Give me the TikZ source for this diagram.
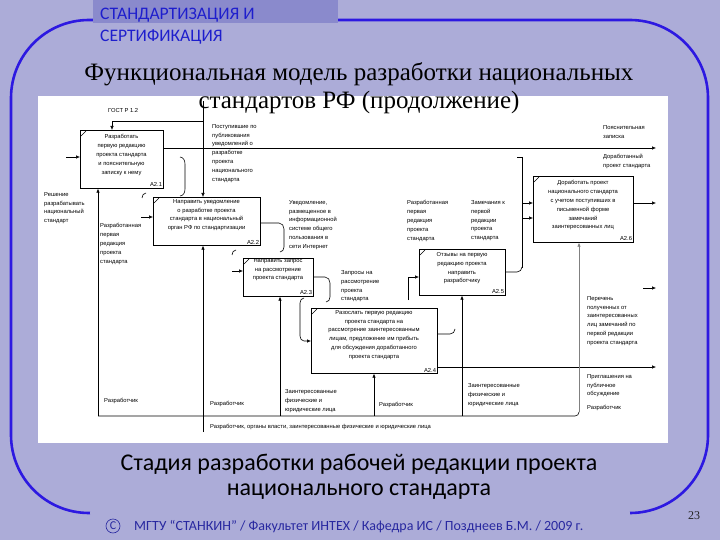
\documentclass[tikz,border=0pt]{standalone}
\usepackage{fontspec}
\setmainfont{Liberation Serif}
\newfontfamily\diagfam{Liberation Sans}
\newfontfamily\calfam{Carlito}
\usetikzlibrary{arrows.meta}
\definecolor{bgc}{RGB}{172,172,216}
\definecolor{hdr}{RGB}{138,138,204}
\definecolor{frm}{RGB}{45,25,225}
\definecolor{hdtxt}{RGB}{30,30,205}
\definecolor{foot}{RGB}{40,40,160}
\newcommand\dgfont{\diagfam\fontsize{5.8}{8.9}\selectfont}
\tikzset{
 fbox/.style={draw, line width=0.7pt, fill=white, anchor=north west, inner sep=0pt},
 btxt/.style={font=\dgfont, align=center, anchor=north, inner sep=0pt},
 ltxt/.style={font=\dgfont, align=left, anchor=north west, inner sep=0pt},
 bnum/.style={font=\dgfont, anchor=south east, inner sep=1.5pt},
 con/.style={line width=0.6pt},
 arr/.style={con, -{Latex[length=4pt,width=3.6pt]}},
 hdstyle/.style={anchor=west, inner sep=0pt, font=\calfam\fontsize{17.6}{20}\selectfont, text=hdtxt},
}
\begin{document}
\begin{tikzpicture}[x=1pt,y=-1pt]
\useasboundingbox (0,0) rectangle (720,540);
\fill[bgc] (0,0) rectangle (720,540);
% frame
\draw[frm, line width=2.6pt, rounded corners=78pt] (90,513) -| (11,20) -| (708,513) -- (630,513);
\draw[frm, line width=0.6pt, double=bgc, double distance=1.2pt] (90,513) -- (630,513);
\fill[hdr] (93,0) rectangle (338,23);
\node[hdstyle] (hd1) at (100,15) {СТАНДАРТИЗАЦИЯ И};
\node[hdstyle] (hd2) at (100,37) {СЕРТИФИКАЦИЯ};
% diagram sheet
\fill[white] (38,96) rectangle (668,443);
% boxes
\node[fbox, minimum width=83pt, minimum height=58pt] (a21) at (80,130) {};
\node[fbox, minimum width=107pt, minimum height=48pt] (a22) at (153,197) {};
\node[fbox, minimum width=70pt, minimum height=38pt] (a23) at (243,258) {};
\node[fbox, minimum width=126pt, minimum height=65pt] (a24) at (311,308) {};
\node[fbox, minimum width=86pt, minimum height=46pt] (a25) at (419,249) {};
\node[fbox, minimum width=100pt, minimum height=66pt] (a26) at (533,176) {};
\foreach \b/\l in {a21/A2.1,a22/A2.2,a23/A2.3,a24/A2.4,a25/A2.5,a26/A2.6}{
  \node[bnum] (n\b) at (\b.south east) {\l};
  \draw[con] ([shift={(1,6)}]\b.north west) -- ([shift={(6,1)}]\b.north west);
}
\node[btxt] (t21) at (121.5,134) {Разработать\\первую редакцию\\проекта стандарта\\и пояснительную\\записку к нему};
\node[btxt] (t22) at (206.5,199) {Направить уведомление\\о разработке проекта\\стандарта в национальный\\орган РФ по стандартизации};
\node[btxt] (t23) at (278,258) {Направить запрос\\на рассмотрение\\проекта стандарта};
\node[btxt] (t24) at (374,310) {Разослать первую редакцию\\проекта стандарта на\\рассмотрение заинтересованным\\лицам, предложение им прибыть\\для обсуждения доработанного\\проекта стандарта};
\node[btxt] (t25) at (462,252) {Отзывы на первую\\редакцию проекта\\направить\\разработчику};
\node[btxt] (t26) at (583,180) {Доработать проект\\национального стандарта\\с учетом поступивших в\\письменной форме\\замечаний\\заинтересованных лиц};
% labels
\node[ltxt] (l1) at (108,108) {ГОСТ Р 1.2};
\node[ltxt] (l2) at (212,124) {Поступившие по\\публикования\\уведомлений о\\разработке\\проекта\\национального\\стандарта};
\node[ltxt] (l3) at (44,192) {Решение\\разрабатывать\\национальный\\стандарт};
\node[ltxt] (l4) at (100,223) {Разработанная\\первая\\редакция\\проекта\\стандарта};
\node[ltxt] (l5) at (289,200) {Уведомление,\\размещенное в\\информационной\\системе общего\\пользования в\\сети Интернет};
\node[ltxt] (l6) at (407,200) {Разработанная\\первая\\редакция\\проекта\\стандарта};
\node[ltxt] (l7) at (471,200) {Замечания к\\первой\\редакции\\проекта\\стандарта};
\node[ltxt] (l8) at (603,125) {Пояснительная\\записка};
\node[ltxt] (l9) at (603,154) {Доработанный\\проект стандарта};
\node[ltxt] (l10) at (341,270) {Запросы на\\рассмотрение\\проекта\\стандарта};
\node[ltxt] (l11) at (587,296) {Перечень\\полученных от\\заинтересованных\\лиц замечаний по\\первой редакции\\проекта стандарта};
\node[ltxt] (l12) at (587,374) {Приглашения на\\публичное\\обсуждение};
\node[ltxt] (l13) at (587,405) {Разработчик};
\node[ltxt] (l14) at (104,398) {Разработчик};
\node[ltxt] (l15) at (210,401) {Разработчик};
\node[ltxt] (l16) at (285,389) {Заинтересованные\\физические и\\юридические лица};
\node[ltxt] (l17) at (379,402) {Разработчик};
\node[ltxt] (l18) at (468,383) {Заинтересованные\\физические и\\юридические лица};
\node[ltxt] (l19) at (210,424) {Разработчик, органы власти, заинтересованные физические и юридические лица};
% coordinates
\coordinate (ctop) at (203,101);
\coordinate (cj) at (203,121);
\coordinate (cg) at (112,121);
\coordinate (o1) at (656,148);
\coordinate (o2) at (656,203);
\coordinate (o3) at (656,367);
\coordinate (o4) at (656,288);
\coordinate (o4s) at (643,288);
\coordinate (i1) at (66,157);
\coordinate (i2) at (141,217);
\coordinate (i3) at (232,271);
\coordinate (mb) at (203,432);
\coordinate (ml) at (98,416);
\coordinate (mr) at (575,416);
\coordinate (m3) at (280,416);
\coordinate (m4) at (374,416);
\coordinate (m5) at (462,416);
\coordinate (m6) at (579,412);
\coordinate (v1) at (522,157);
\coordinate (v2) at (522,268);
% controls
\draw[arr] (ctop) -- (ctop |- a22.north);
\draw[arr] (cj) -- (cg) -- (cg |- a21.north);
% outputs
\draw[arr] (a21.east |- o1) -- (o1);
\draw[arr] (a26.east |- o2) -- (o2);
\draw[arr] (a24.east |- o3) -- (o3);
\draw[arr] (o4s) -- (o4);
% inputs (stubs)
\draw[arr] (i1) -- (i1 -| a21.west);
\draw[arr] (i2) -- (i2 -| a22.west);
\draw[arr] (i3) -- (i3 -| a23.west);
\draw[con] (146,193) to[out=180,in=90] (142,198);
\draw[con] (236,250) to[out=180,in=90] (232,255);
% squiggles / brackets
\draw[con] (180,157) to[out=0,in=90] (185,164) -- (185,189) to[out=-90,in=0] (180,196);
\draw[con] (a22.east |- 0,223) -- (279,223) to[out=0,in=90] (284,229) -- (284,247) to[out=-90,in=0] (280,252);
\draw[con] (a23.east |- 0,277) -- (325,277) to[out=0,in=90] (330,283) -- (330,297) to[out=-90,in=0] (326,302);
% A2.4 input
\draw[arr] (304,298) to[out=180,in=90] (300,303) -- (300,336) to[out=-90,in=180] (304,341) -- (304,341 -| a24.west);
% A2.4 upper output
\draw[con] (a24.east |- 0,334) -- (450,334) to[out=0,in=-90] (455,329);
% A2.5 input
\draw[arr] (408,300) -- (408,277) -- (408,277 -| a25.west);
% A2.5 output to A2.6
\draw[con] (a25.east |- 0,272) -- (517,272) to[out=0,in=-90] (522,267);
\draw[con] (v1) -- (v2);
\draw[con] (517,157) -- (v1);
\draw[arr] (522,203) -- (522,203 -| a26.west);
\draw[arr] (522,218) -- (522,218 -| a26.west);
% mechanisms
\draw[arr] (mb) -- (mb |- a22.south);
\draw[con] (ml) -- (mr) to[out=0,in=-90] (m6);
\draw[arr] (ml) -- (ml |- a21.south);
\draw[arr] (m3) -- (m3 |- a23.south);
\draw[arr] (m4) -- (m4 |- a24.south);
\draw[arr] (m5) -- (m5 |- a25.south);
\draw[arr, gray] (m6) -- (m6 |- a26.south);
% title
\node[font=\fontsize{25}{29}\selectfont] (ti1) at (359,74) {Функциональная модель разработки национальных};
\node[font=\fontsize{25}{29}\selectfont] (ti2) at (359,102) {стандартов РФ (продолжение)};
% caption
\node[font=\calfam\fontsize{24}{28}\selectfont] (cap1) at (359,464) {Стадия разработки рабочей редакции проекта};
\node[font=\calfam\fontsize{24}{28}\selectfont] (cap2) at (359,492) {национального стандарта};
% footer
\node[draw=foot, circle, line width=0.6pt, minimum size=14pt, inner sep=0pt, font=\calfam\fontsize{12}{13}\selectfont, text=foot] (cc) at (113,526) {C};
\node[anchor=west, inner sep=0pt, font=\calfam\fontsize{14}{16}\selectfont, text=foot] (ft) at (134,527) {МГТУ “СТАНКИН” / Факультет ИНТЕХ / Кафедра ИС / Позднеев Б.М. / 2009 г.};
\node[font=\fontsize{12}{14}\selectfont, text=black!85] (pg) at (694,516) {23};
\end{tikzpicture}
\end{document}
